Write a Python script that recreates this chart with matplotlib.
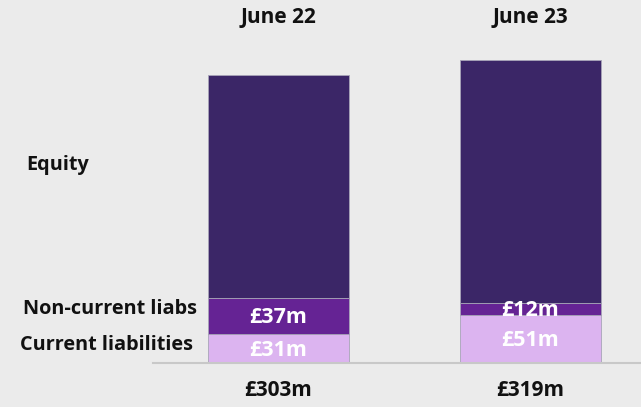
import matplotlib.pyplot as plt
import matplotlib.transforms as mtransforms

periods = ['June 22', 'June 23']
current_liabs = [31, 51]
noncurrent_liabs = [37, 12]
equity = [235, 256]
totals = ['£303m', '£319m']
current_labels = ['£31m', '£51m']
noncurrent_labels = ['£37m', '£12m']
row_labels = ['Current liabilities', 'Non-current liabs', 'Equity']

bg = '#ebebeb'
c_cur = '#dcb4f0'
c_nc = '#652394'
c_eq = '#3b2667'
txt = '#111111'

plt.rcParams['font.family'] = ['Open Sans', 'DejaVu Sans']
plt.rcParams['font.weight'] = 'bold'

W, H = 641, 407
fig = plt.figure(figsize=(W / 100, H / 100), dpi=100, facecolor=bg)
ax = fig.add_axes([153 / W, (H - 363) / H, (W - 153) / W, 363 / H])
ax.set_facecolor(bg)

x = [0, 1]
bw = 0.56
nc_bottom = current_liabs
eq_bottom = [a + b for a, b in zip(current_liabs, noncurrent_liabs)]
ec = '#a8a4b8'
ax.bar(x, current_liabs, bw, color=c_cur, edgecolor=ec, linewidth=0.6)
ax.bar(x, noncurrent_liabs, bw, bottom=nc_bottom, color=c_nc, edgecolor=ec, linewidth=0.6)
ax.bar(x, equity, bw, bottom=eq_bottom, color=c_eq, edgecolor=ec, linewidth=0.6)

ax.set_xlim(-0.498, 1.4385)
ax.set_ylim(0, 381.9)
for s in ax.spines.values():
    s.set_visible(False)
ax.set_xticks([])
ax.set_yticks([])
ax.axhline(0, color='#c8c8c8', lw=1.5, clip_on=False)

# value labels inside segments
for i in x:
    ax.text(i, current_liabs[i] / 2 - 2, current_labels[i], ha='center', va='center',
            color='white', fontsize=15.5)
    ax.text(i, current_liabs[i] + noncurrent_liabs[i] / 2 - 1.5, noncurrent_labels[i],
            ha='center', va='center', color='white', fontsize=15.5)

# headers and totals
trx = mtransforms.blended_transform_factory(ax.transData, fig.transFigure)
for i in x:
    ax.text(i, 1 - 18 / H, periods[i], transform=trx, ha='center', va='center',
            fontsize=15, color=txt)
    ax.text(i, 1 - 391 / H, totals[i], transform=trx, ha='center', va='center',
            fontsize=15, color=txt)

# row labels on the left
tr = mtransforms.blended_transform_factory(fig.transFigure, ax.transData)
ax.text(26 / W, 208, row_labels[2], transform=tr, ha='left', va='center', fontsize=14.3, color=txt)
ax.text(23 / W, 57, row_labels[1], transform=tr, ha='left', va='center', fontsize=14.3, color=txt)
ax.text(20 / W, 19, row_labels[0], transform=tr, ha='left', va='center', fontsize=14.3, color=txt)

fig.savefig('out.png', dpi=100, facecolor=bg)
